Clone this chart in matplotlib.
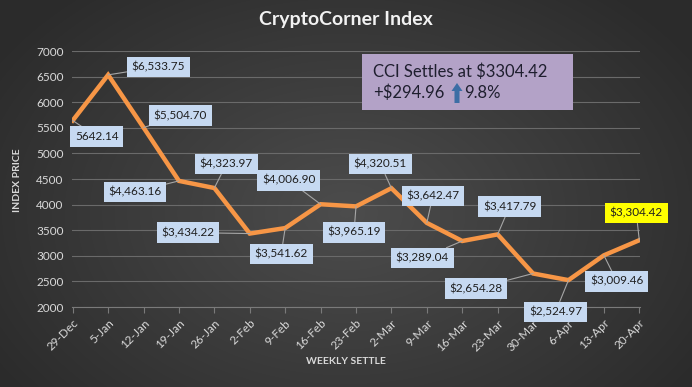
import numpy as np
import matplotlib.pyplot as plt
from matplotlib.patches import Rectangle, FancyArrow

plt.rcParams['font.family'] = ['Lato', 'DejaVu Sans']

# data
weeks = ["29-Dec", "5-Jan", "12-Jan", "19-Jan", "26-Jan", "2-Feb", "9-Feb", "16-Feb",
         "23-Feb", "2-Mar", "9-Mar", "16-Mar", "23-Mar", "30-Mar", "6-Apr", "13-Apr", "20-Apr"]
price = [5642.14, 6533.75, 5504.70, 4463.16, 4323.97, 3434.22, 3541.62, 4006.90,
         3965.19, 4320.51, 3642.47, 3289.04, 3417.79, 2654.28, 2524.97, 3009.46, 3304.42]
labels = ["5642.14", "$6,533.75", "$5,504.70", "$4,463.16", "$4,323.97", "$3,434.22",
          "$3,541.62", "$4,006.90", "$3,965.19", "$4,320.51", "$3,642.47", "$3,289.04",
          "$3,417.79", "$2,654.28", "$2,524.97", "$3,009.46", "$3,304.42"]

# label offsets in pixels (dx, dy)
offsets = [(24, -16), (50, 8), (37, 12), (-44, -11), (12, 24), (-62, 1), (-4, -26),
           (-32, 24), (-2, -26), (-11, 24), (6, 27), (-40, -17), (12, 28), (-57, -15),
           (-13, -32), (13, -26), (-3, 27)]

W, H = 692, 387
fig = plt.figure(figsize=(W / 100, H / 100), dpi=100)

# radial gradient background
bg = fig.add_axes([0, 0, 1, 1], zorder=-10)
yy, xx = np.mgrid[0:H, 0:W]
r = np.sqrt(((xx - W * 0.5) / (W * 0.6)) ** 2 + ((yy - H * 0.55) / (H * 0.75)) ** 2)
shade = np.clip(0.30 - 0.13 * r, 0.17, 0.30)
bg.imshow(np.dstack([shade] * 3), aspect='auto', extent=[0, 1, 0, 1])
bg.axis('off')

ax = fig.add_axes([72 / W, 1 - 307 / H, 568 / W, 256 / H])
ax.patch.set_alpha(0)
x = np.arange(len(weeks))
ax.plot(x, price, color='#f79646', lw=3.2, solid_joinstyle='miter', zorder=3)

ax.set_ylim(2000, 7000)
ax.set_yticks(np.arange(2000, 7001, 500))
ax.set_xticks(x)
ax.set_xticklabels(weeks, rotation=45, ha='right', rotation_mode='anchor')
ax.grid(axis='y', color='#6a6a6a', lw=0.8)
ax.set_axisbelow(True)
for s in ['top', 'right', 'left']:
    ax.spines[s].set_visible(False)
ax.spines['bottom'].set_color('#7a7a7a')
ax.tick_params(axis='y', length=0, colors='#d9d9d9', labelsize=8.5, pad=6)
ax.tick_params(axis='x', length=4, color='#7a7a7a', labelsize=8.5)
for t in ax.get_xticklabels():
    t.set_color('#d9d9d9')

ax.set_xlim(-0.02, len(weeks) - 1 + 0.02)

for i, (v, lab) in enumerate(zip(price, labels)):
    fc = '#ffff00' if i == len(price) - 1 else '#c6d9f1'
    ax.annotate(lab, (i, v), xytext=offsets[i], textcoords='offset pixels',
                ha='center', va='center', fontsize=8.5, color='#1f1f1f',
                bbox=dict(boxstyle='square,pad=0.4', fc=fc, ec='none'),
                arrowprops=dict(arrowstyle='-', color='#a6a6a6', lw=0.8,
                                shrinkA=0, shrinkB=0), zorder=5)

fig.text(0.5, 1 - 20 / H, "CryptoCorner Index", ha='center', va='center',
         fontsize=14, fontweight='bold', color='#f2f2f2')
fig.text(18 / W, 1 - 180 / H, "INDEX PRICE", rotation=90, ha='center', va='center',
         fontsize=7.5, fontweight='bold', color='#d9d9d9')
fig.text(346 / W, 1 - 361 / H, "WEEKLY SETTLE", ha='center', va='center',
         fontsize=7.5, fontweight='bold', color='#d9d9d9')

# info box
fig.patches.append(Rectangle((362 / W, 1 - 110 / H), 211 / W, 56 / H,
                             transform=fig.transFigure, fc='#b3a2c7', ec='none', zorder=6))
fig.text(373 / W, 1 - 72 / H, "CCI Settles at $3304.42", ha='left', va='center',
         fontsize=12, color='#1f1f2f', zorder=7)
fig.text(373 / W, 1 - 93 / H, "+$294.96", ha='left', va='center',
         fontsize=12, color='#1f1f2f', zorder=7)
fig.patches.append(FancyArrow(457 / W, 1 - 103 / H, 0, 20 / H, width=5 / W,
                              head_width=11 / W, head_length=8 / H,
                              length_includes_head=True, transform=fig.transFigure,
                              fc='#3c6ea5', ec='none', zorder=7))
fig.text(464 / W, 1 - 93 / H, "9.8%", ha='left', va='center',
         fontsize=12, color='#1f1f2f', zorder=7)

fig.savefig('out.png', dpi=100)
